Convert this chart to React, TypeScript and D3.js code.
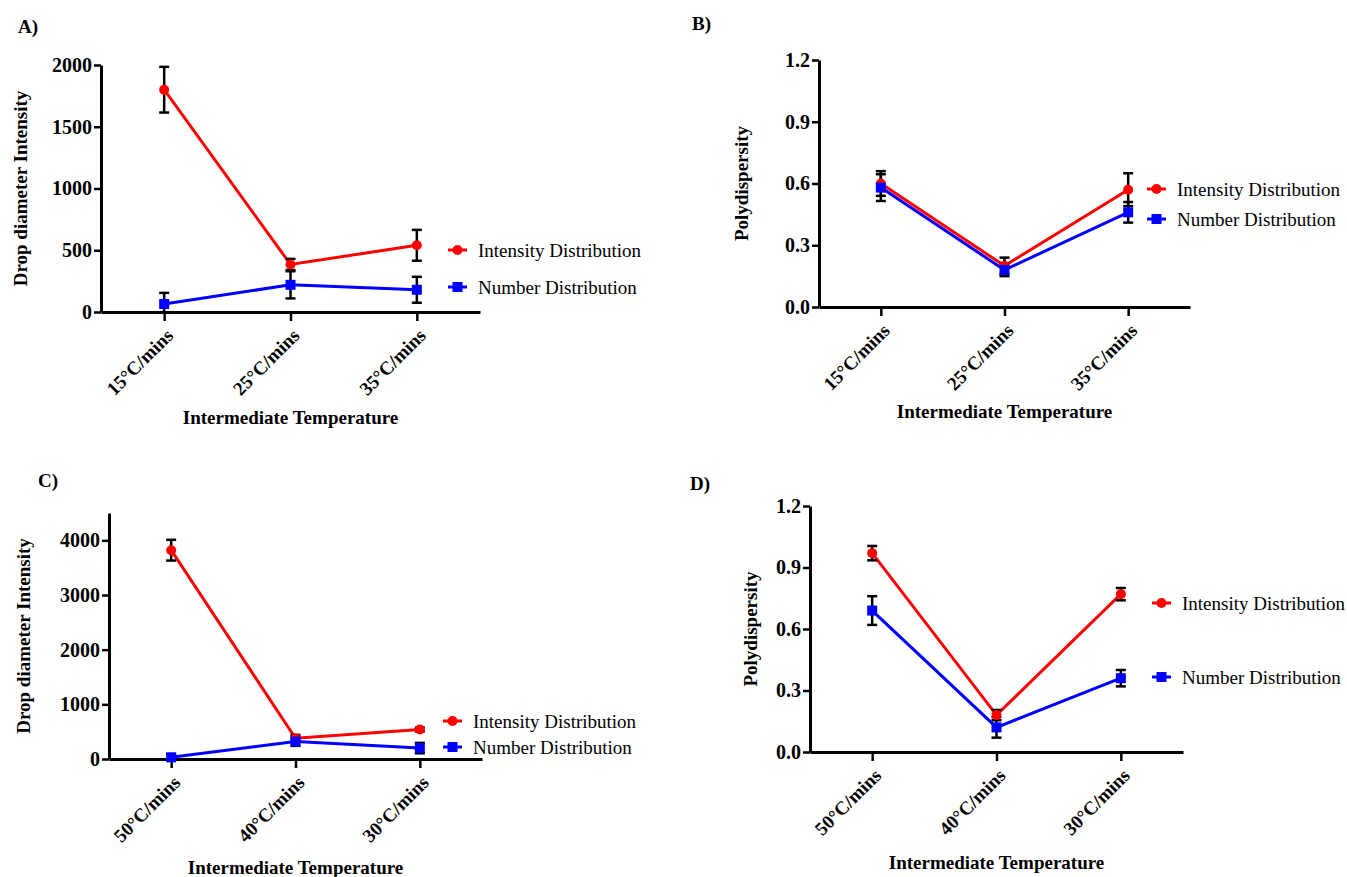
import React, { useRef, useEffect } from 'react';
import * as d3 from 'd3';

// categories
const heatingRates = ['15°C/mins', '25°C/mins', '35°C/mins'];
const coolingRates = ['50°C/mins', '40°C/mins', '30°C/mins'];

// A) drop diameter, heating
const sizeIntensityA = [1800, 385, 540];
const sizeIntensitySdA = [185, 45, 125];
const sizeNumberA = [65, 220, 180];
const sizeNumberSdA = [90, 110, 105];

// B) polydispersity, heating
const pdiIntensityB = [0.6, 0.2, 0.57];
const pdiIntensitySdB = [0.06, 0.04, 0.08];
const pdiNumberB = [0.58, 0.18, 0.46];
const pdiNumberSdB = [0.065, 0.03, 0.05];

// C) drop diameter, cooling
const sizeIntensityC = [3820, 380, 540];
const sizeIntensitySdC = [190, 60, 35];
const sizeNumberC = [30, 320, 200];
const sizeNumberSdC = [60, 80, 95];

// D) polydispersity, cooling
const pdiIntensityD = [0.97, 0.18, 0.77];
const pdiIntensitySdD = [0.035, 0.025, 0.03];
const pdiNumberD = [0.69, 0.12, 0.36];
const pdiNumberSdD = [0.07, 0.05, 0.04];

const sizeTicksA = [0, 500, 1000, 1500, 2000];
const sizeTicksC = [0, 1000, 2000, 3000, 4000];
const pdiTicks = [0, 0.3, 0.6, 0.9, 1.2];

const FONT = '"Liberation Serif", "Times New Roman", serif';
const RED = '#ff0000';
const BLUE = '#0000ff';

type PanelProps = {
  label: string;
  labelPos: [number, number];
  cats: string[];
  intensity: number[];
  intensitySd: number[];
  number: number[];
  numberSd: number[];
  yMax: number;
  ticks: number[];
  fmt: (d: number) => string;
  yTitle: string;
  yTitleX: number;
  box: { left: number; right: number; top: number; bottom: number };
  legend: { x: number; y1: number; y2: number };
  xTitleY: number;
};

const Panel = (p: PanelProps) => {
  const ref = useRef<SVGGElement>(null);

  useEffect(() => {
    const g = d3.select(ref.current);
    g.selectAll('*').remove();
    const { left, right, top, bottom } = p.box;

    const x = d3.scalePoint<string>().domain(p.cats).range([left, right]).padding(0.5);
    const y = d3.scaleLinear().domain([0, p.yMax]).range([bottom, top]);

    // y axis
    const ya = g.append('g')
      .attr('transform', `translate(${left},0)`)
      .call(d3.axisLeft(y).tickValues(p.ticks).tickFormat(p.fmt as any).tickSize(7).tickSizeOuter(0));
    ya.select('.domain').attr('stroke', '#000').attr('stroke-width', 3);
    ya.selectAll('.tick line').attr('stroke', '#000').attr('stroke-width', 2.5);
    ya.selectAll('.tick text')
      .attr('x', -9)
      .style('font-family', FONT)
      .style('font-size', '20px')
      .style('font-weight', 'bold')
      .attr('fill', '#000');

    // x axis
    const xa = g.append('g')
      .attr('transform', `translate(0,${bottom})`)
      .call(d3.axisBottom(x).tickSize(9).tickSizeOuter(0));
    xa.select('.domain').attr('stroke', '#000').attr('stroke-width', 3);
    xa.selectAll('.tick line').attr('stroke', '#000').attr('stroke-width', 2.5);
    xa.selectAll('.tick text')
      .attr('x', 0)
      .attr('y', 0)
      .attr('dy', '0.35em')
      .attr('text-anchor', 'end')
      .attr('transform', 'translate(5,20) rotate(-45)')
      .style('font-family', FONT)
      .style('font-size', '19px')
      .style('font-weight', 'bold')
      .attr('fill', '#000');

    const series = [
      { v: p.intensity, sd: p.intensitySd, color: RED, shape: 'circle' },
      { v: p.number, sd: p.numberSd, color: BLUE, shape: 'square' },
    ];

    const line = d3.line<number>()
      .x((_, i) => x(p.cats[i]) as number)
      .y(d => y(d));

    series.forEach(s => {
      g.append('path')
        .attr('d', line(s.v) as string)
        .attr('fill', 'none')
        .attr('stroke', s.color)
        .attr('stroke-width', 3);
    });

    series.forEach(s => {
      const eb = g.append('g');
      s.v.forEach((v, i) => {
        const cx = x(p.cats[i]) as number;
        const lo = Math.max(0, v - s.sd[i]);
        const hi = v + s.sd[i];
        eb.append('line')
          .attr('x1', cx).attr('x2', cx)
          .attr('y1', y(lo)).attr('y2', y(hi))
          .attr('stroke', '#000').attr('stroke-width', 2.5);
        eb.append('line')
          .attr('x1', cx - 5).attr('x2', cx + 5)
          .attr('y1', y(hi)).attr('y2', y(hi))
          .attr('stroke', '#000').attr('stroke-width', 2.5);
        if (v - s.sd[i] > 0) {
          eb.append('line')
            .attr('x1', cx - 5).attr('x2', cx + 5)
            .attr('y1', y(lo)).attr('y2', y(lo))
            .attr('stroke', '#000').attr('stroke-width', 2.5);
        }
      });
    });

    const marker = (sel: any, shape: string, color: string) => {
      if (shape === 'circle') {
        sel.append('circle').attr('r', 5).attr('fill', color);
      } else {
        sel.append('rect').attr('x', -5).attr('y', -5).attr('width', 10).attr('height', 10).attr('fill', color);
      }
    };

    series.forEach(s => {
      s.v.forEach((v, i) => {
        const m = g.append('g').attr('transform', `translate(${x(p.cats[i])},${y(v)})`);
        marker(m, s.shape, s.color);
      });
    });

    // legend
    const names = ['Intensity Distribution', 'Number Distribution'];
    const ly = [p.legend.y1, p.legend.y2];
    series.forEach((s, i) => {
      const lg = g.append('g').attr('transform', `translate(${p.legend.x},${ly[i]})`);
      lg.append('line').attr('x1', 0).attr('x2', 19).attr('stroke', s.color).attr('stroke-width', 3);
      marker(lg.append('g').attr('transform', 'translate(9.5,0)'), s.shape, s.color);
      lg.append('text')
        .attr('x', 30)
        .attr('dy', '0.35em')
        .style('font-family', FONT)
        .style('font-size', '19px')
        .attr('fill', '#000')
        .text(names[i]);
    });

    // titles
    g.append('text')
      .attr('transform', `translate(${p.yTitleX},${(top + bottom) / 2}) rotate(-90)`)
      .attr('text-anchor', 'middle')
      .attr('dy', '0.35em')
      .style('font-family', FONT)
      .style('font-size', '19px')
      .style('font-weight', 'bold')
      .text(p.yTitle);

    g.append('text')
      .attr('x', (left + right) / 2)
      .attr('y', p.xTitleY)
      .attr('text-anchor', 'middle')
      .style('font-family', FONT)
      .style('font-size', '19px')
      .style('font-weight', 'bold')
      .text('Intermediate Temperature');

    g.append('text')
      .attr('x', p.labelPos[0])
      .attr('y', p.labelPos[1])
      .style('font-family', FONT)
      .style('font-size', '19px')
      .style('font-weight', 'bold')
      .text(p.label);
  }, [p]);

  return <g ref={ref} />;
};

const fmtInt = (d: number) => d3.format('d')(d);
const fmtOne = (d: number) => d3.format('.1f')(d);

export default function App() {
  return (
    <svg width={1347} height={877} style={{ position: 'absolute', left: 0, top: 0, background: '#fff' }}>
      <Panel
        label="A)" labelPos={[18, 33]}
        cats={heatingRates}
        intensity={sizeIntensityA} intensitySd={sizeIntensitySdA}
        number={sizeNumberA} numberSd={sizeNumberSdA}
        yMax={2000} ticks={sizeTicksA} fmt={fmtInt}
        yTitle="Drop diameter Intensity" yTitleX={20}
        box={{ left: 101, right: 480, top: 65, bottom: 312 }}
        legend={{ x: 448, y1: 250, y2: 287 }}
        xTitleY={424}
      />
      <Panel
        label="B)" labelPos={[692, 30]}
        cats={heatingRates}
        intensity={pdiIntensityB} intensitySd={pdiIntensitySdB}
        number={pdiNumberB} numberSd={pdiNumberSdB}
        yMax={1.2} ticks={pdiTicks} fmt={fmtOne}
        yTitle="Polydispersity" yTitleX={741}
        box={{ left: 819, right: 1190, top: 60, bottom: 307 }}
        legend={{ x: 1147, y1: 189, y2: 219 }}
        xTitleY={418}
      />
      <Panel
        label="C)" labelPos={[38, 487]}
        cats={coolingRates}
        intensity={sizeIntensityC} intensitySd={sizeIntensitySdC}
        number={sizeNumberC} numberSd={sizeNumberSdC}
        yMax={4500} ticks={sizeTicksC} fmt={fmtInt}
        yTitle="Drop diameter Intensity" yTitleX={23}
        box={{ left: 109, right: 482, top: 513, bottom: 759 }}
        legend={{ x: 443, y1: 721, y2: 747 }}
        xTitleY={874}
      />
      <Panel
        label="D)" labelPos={[690, 490]}
        cats={coolingRates}
        intensity={pdiIntensityD} intensitySd={pdiIntensitySdD}
        number={pdiNumberD} numberSd={pdiNumberSdD}
        yMax={1.2} ticks={pdiTicks} fmt={fmtOne}
        yTitle="Polydispersity" yTitleX={750}
        box={{ left: 810, right: 1183, top: 506, bottom: 752 }}
        legend={{ x: 1152, y1: 603, y2: 677 }}
        xTitleY={869}
      />
    </svg>
  );
}
